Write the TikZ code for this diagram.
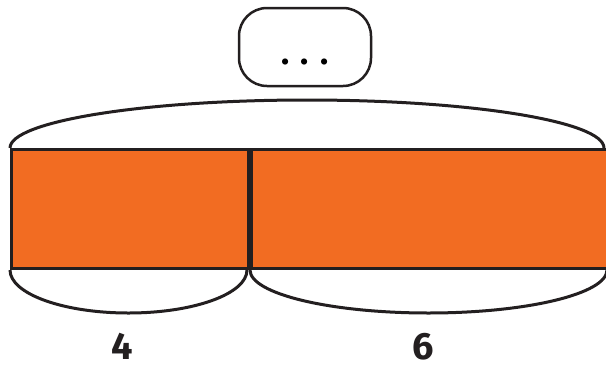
\documentclass[tikz,border=0pt]{standalone}
\usepackage{fontspec}
\setmainfont{Fira Sans}
\usepackage{tikz}
\usetikzlibrary{
  positioning,
  calc
}
\definecolor{barOrange}{HTML}{F26C22}
\definecolor{barInk}{HTML}{231F20}
\tikzset{
  barpart/.style={
    draw=barInk, line width=3pt, fill=barOrange, inner sep=0pt,
    minimum height=119pt, anchor=north west
  },
  bubble/.style={
    draw=barInk, line width=2.5pt, rounded corners=28pt, fill=white,
    minimum width=132pt, minimum height=78pt, inner sep=0pt,
    font=\fontsize{34}{34}\selectfont\bfseries
  },
  brace/.style={draw=barInk, line width=3pt},
  numlabel/.style={font=\fontsize{38}{38}\selectfont\bfseries, text=barInk, anchor=base, inner sep=0pt}
}
\begin{document}
\begin{tikzpicture}[x=1pt, y=-1pt]
  \useasboundingbox (0,0) rectangle (606,365);
  \node[barpart, minimum width=237pt] (part4) at (10,148) {};
  \node[barpart, minimum width=357pt] (part6) at (part4.north east) {};
  \node[bubble] (ask) at (305,47) {\raisebox{-17pt}[0pt][0pt]{.\,\,.\,\,.}};
  \draw[brace] (part4.north west) arc[start angle=180, end angle=0, x radius=297pt, y radius=48pt];
  \draw[brace] (part4.south west) arc[start angle=180, end angle=360, x radius=118.5pt, y radius=43pt];
  \draw[brace] (part4.south east) arc[start angle=180, end angle=360, x radius=178.5pt, y radius=43pt];
  \node[numlabel] (lbl4) at (122,359) {4};
  \node[numlabel] (lbl6) at (423,359) {6};
\end{tikzpicture}
\end{document}
